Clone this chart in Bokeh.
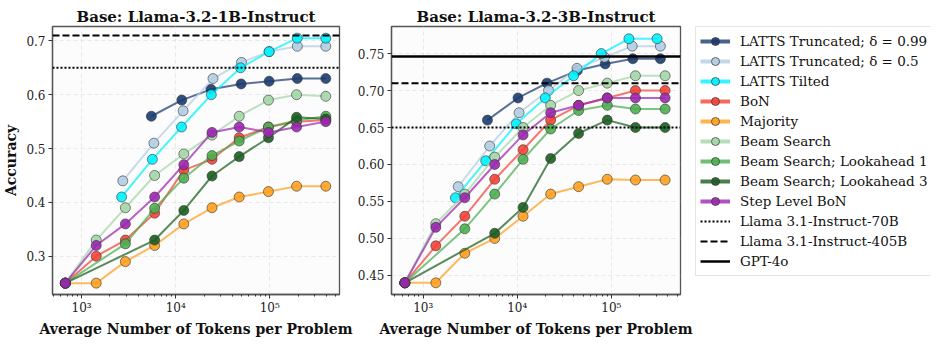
from bokeh.plotting import figure
from bokeh.layouts import row
from bokeh.models import (Range1d, FixedTicker, CustomJSTickFormatter, PrintfTickFormatter,
                          Span, Legend, LegendItem)
from bokeh.embed import file_html
from bokeh.resources import INLINE

FONT = "DejaVu Serif"
NAN = float("nan")

# ---------------- data ----------------
SERIES_NAMES = ["LATTS Truncated; δ = 0.99", "LATTS Truncated; δ = 0.5", "LATTS Tilted", "BoN",
                "Majority", "Beam Search", "Beam Search; Lookahead 1", "Beam Search; Lookahead 3",
                "Step Level BoN"]
REF_NAMES = ["Llama 3.1-Instruct-70B", "Llama 3.1-Instruct-405B", "GPT-4o"]
REF_VALUES = [0.65, 0.71, 0.746]

X_TICKS = [1000, 10000, 100000]
X_TICK_LABELS = ["10³", "10⁴", "10⁵"]
Y_TICKS_1B = [0.3, 0.4, 0.5, 0.6, 0.7]
Y_TICKS_3B = [0.45, 0.50, 0.55, 0.60, 0.65, 0.70, 0.75]

# Llama-3.2-1B-Instruct
x_base_1b = [671, 1429, 2917, 5970, 12190, 24320, 47300, 96800, 192700, 394000]
x_look1_1b = [671, 2917, 5970, 12190, 24320, 47300, 96800, 192700, 394000]
x_look3_1b = [671, 5970, 12190, 24320, 47300, 96800, 192700, 394000]
x_t99_1b = [5510, 11610, 23700, 49600, 98400, 196000, 394000]
x_t05_1b = [2740, 5860, 11990, 24900, 50000, 98400, 196000, 394000]
x_tilt_1b = [2660, 5650, 11530, 23900, 48900, 98400, 196000, 394000]

t99_1b = [0.56, 0.59, 0.61, 0.62, 0.625, 0.63, 0.63]
t05_1b = [0.44, 0.51, 0.57, 0.63, 0.66, 0.68, 0.69, 0.69]
tilt_1b = [0.41, 0.48, 0.54, 0.60, 0.65, 0.68, 0.705, 0.705]
bon_1b = [0.25, 0.30, 0.33, 0.38, 0.46, 0.48, 0.52, 0.54, 0.55, 0.553]
maj_1b = [0.25, 0.25, 0.29, 0.32, 0.36, 0.39, 0.41, 0.42, 0.43, 0.43]
beam_1b = [0.25, 0.33, 0.39, 0.45, 0.49, 0.525, 0.56, 0.59, 0.60, 0.597]
look1_1b = [0.25, 0.323, 0.389, 0.445, 0.487, 0.514, 0.54, 0.552, 0.56]
look3_1b = [0.25, 0.33, 0.385, 0.449, 0.485, 0.52, 0.558, 0.555]
step_1b = [0.25, 0.32, 0.36, 0.41, 0.47, 0.53, 0.54, 0.53, 0.54, 0.55]

# Llama-3.2-3B-Instruct
x_base_3b = [638, 1361, 2767, 5757, 11530, 22650, 44870, 90560, 180600, 373300]
x_look1_3b = [638, 2767, 5757, 11530, 22650, 44870, 90560, 180600, 373300]
x_look3_3b = [638, 5757, 11530, 22650, 44870, 90560, 180600, 373300]
x_t99_3b = [4820, 10180, 20700, 43500, 86100, 169400, 332600]
x_t05_3b = [2355, 5090, 10450, 21520, 43150, 84700, 166700, 332600]
x_tilt_3b = [2200, 4620, 9770, 19860, 39700, 78200, 153800, 306900]

t99_3b = [0.66, 0.69, 0.71, 0.727, 0.736, 0.743, 0.743]
t05_3b = [0.57, 0.625, 0.67, 0.70, 0.73, 0.745, 0.76, 0.76]
tilt_3b = [0.555, 0.605, 0.655, 0.69, 0.72, 0.75, 0.77, 0.77]
bon_3b = [0.44, 0.49, 0.53, 0.58, 0.62, 0.66, 0.68, 0.69, 0.70, 0.70]
maj_3b = [0.44, 0.44, 0.48, 0.50, 0.53, 0.56, 0.57, 0.58, 0.579, 0.579]
beam_3b = [0.44, 0.52, 0.56, 0.61, 0.65, 0.68, 0.70, 0.71, 0.72, 0.72]
look1_3b = [0.44, 0.513, 0.56, 0.607, 0.648, 0.673, 0.68, 0.675, 0.675]
look3_3b = [0.44, 0.507, 0.542, 0.608, 0.642, 0.66, 0.65, 0.65]
step_3b = [0.44, 0.515, 0.555, 0.60, 0.64, 0.67, 0.68, 0.69, 0.69, 0.69]

# ---------------- style ----------------
COLORS = ["#1a3b70", "#b3cde3", "#00f2ff", "#f44336", "#ffa020",
          "#a5d6a7", "#4caf50", "#1b5e20", "#9c27b0"]
REF_DASH = ["2 2", "7 3", "solid"]
REF_WIDTH = [2, 2, 2.5]

MINOR = [m * 10 ** e for e in range(2, 6) for m in range(2, 10)]


def make_panel(title, xr, yr, yticks, yfmt, series, refs, ylabel, width, mbl, mbr):
    p = figure(width=width, height=339, x_axis_type="log",
               x_range=Range1d(*xr), y_range=Range1d(*yr),
               output_backend="svg", toolbar_location=None, title=title,
               min_border_left=mbl, min_border_right=mbr,
               min_border_top=20, min_border_bottom=38)
    p.title.text_font = FONT
    p.title.text_font_size = "15px"
    p.title.text_font_style = "bold"
    p.title.align = "center"
    p.title.standoff = 2
    p.title.text_color = "#111111"
    p.background_fill_color = "#fcfcfc"
    p.border_fill_color = "white"
    p.outline_line_color = "#555555"
    p.outline_line_width = 1.3

    xt = FixedTicker(ticks=X_TICKS, minor_ticks=MINOR)
    p.xaxis.ticker = xt
    p.xgrid.ticker = xt
    p.xaxis.formatter = CustomJSTickFormatter(
        args=dict(vals=X_TICKS, labels=X_TICK_LABELS),
        code="const i = vals.indexOf(tick); return i >= 0 ? labels[i] : '';")
    yt = FixedTicker(ticks=yticks)
    p.yaxis.ticker = yt
    p.ygrid.ticker = yt
    p.yaxis.formatter = PrintfTickFormatter(format=yfmt)

    for ax in (p.xaxis[0], p.yaxis[0]):
        ax.axis_line_color = "#555555"
        ax.axis_line_width = 1.3
        ax.major_tick_line_color = "#333333"
        ax.minor_tick_line_color = "#333333"
        ax.major_tick_in = 0
        ax.major_tick_out = 4
        ax.minor_tick_in = 0
        ax.minor_tick_out = 2
        ax.major_label_text_font = FONT
        ax.major_label_text_font_size = "12px"
        ax.major_label_text_color = "#222222"
        ax.major_label_standoff = 2
        ax.axis_label_text_font = FONT
        ax.axis_label_text_font_size = "14px"
        ax.axis_label_text_font_style = "bold"
        ax.axis_label_text_color = "#111111"
        ax.axis_label_standoff = 3
    p.yaxis.major_label_standoff = 3
    p.yaxis.axis_label_standoff = 4
    p.xaxis.axis_label = "Average Number of Tokens per Problem"
    if ylabel:
        p.yaxis.axis_label = ylabel

    for g in (p.xgrid[0], p.ygrid[0]):
        g.grid_line_color = "#e2e2e2"
        g.grid_line_dash = "4 3"
        g.grid_line_width = 0.8

    for (xs, ys), color in zip(series, COLORS):
        p.line(xs, ys, line_color=color, line_width=2, line_alpha=0.72)
        p.scatter(xs, ys, size=10, fill_color=color, fill_alpha=0.9,
                  line_color="#333333", line_alpha=0.6, line_width=1)

    for i in refs:
        p.add_layout(Span(location=REF_VALUES[i], dimension="width", line_color="black",
                          line_dash=REF_DASH[i], line_width=REF_WIDTH[i]))
    return p


series_1b = [(x_t99_1b, t99_1b), (x_t05_1b, t05_1b), (x_tilt_1b, tilt_1b),
             (x_base_1b, bon_1b), (x_base_1b, maj_1b), (x_base_1b, beam_1b),
             (x_look1_1b, look1_1b), (x_look3_1b, look3_1b), (x_base_1b, step_1b)]
series_3b = [(x_t99_3b, t99_3b), (x_t05_3b, t05_3b), (x_tilt_3b, tilt_3b),
             (x_base_3b, bon_3b), (x_base_3b, maj_3b), (x_base_3b, beam_3b),
             (x_look1_3b, look1_3b), (x_look3_3b, look3_3b), (x_base_3b, step_3b)]

p1 = make_panel("Base: Llama-3.2-1B-Instruct", (490, 551000), (0.2289, 0.7267),
                Y_TICKS_1B, "%.1f", series_1b, [0, 1], "Accuracy", 354, 47, 15)
p2 = make_panel("Base: Llama-3.2-3B-Instruct", (460, 544000), (0.4242, 0.7866),
                Y_TICKS_3B, "%.2f", series_3b, [0, 1, 2], None, 340, 35, 14)

# ---------------- legend panel ----------------
p3 = figure(width=237, height=339, x_range=Range1d(0, 1), y_range=Range1d(0, 1),
            output_backend="svg", toolbar_location=None,
            x_axis_location=None, y_axis_location=None,
            min_border_left=1, min_border_right=0, min_border_top=26, min_border_bottom=0)
p3.outline_line_color = None
p3.grid.visible = False
p3.background_fill_color = "white"

items = []
for name, color in zip(SERIES_NAMES, COLORS):
    lr = p3.line(x=[NAN], y=[NAN], line_color=color, line_width=4, line_alpha=0.8)
    sr = p3.scatter(x=[NAN], y=[NAN], size=7, fill_color=color, fill_alpha=0.9,
                    line_color="#333333", line_alpha=0.7, line_width=1)
    items.append(LegendItem(label=name, renderers=[lr, sr]))
for i, name in enumerate(REF_NAMES):
    lr = p3.line(x=[NAN], y=[NAN], line_color="black", line_width=REF_WIDTH[i],
                 line_dash=REF_DASH[i])
    items.append(LegendItem(label=name, renderers=[lr]))

legend = Legend(items=items, location="top_left", margin=0, padding=4, spacing=0,
                label_height=20, glyph_height=20, glyph_width=30, label_standoff=10,
                label_text_font=FONT, label_text_font_size="13.5px", label_text_color="#111111",
                border_line_color="#cccccc", border_line_width=1, background_fill_alpha=1)
p3.add_layout(legend)

layout = row(p1, p2, p3)
open("out.html", "w").write(file_html(layout, INLINE))
